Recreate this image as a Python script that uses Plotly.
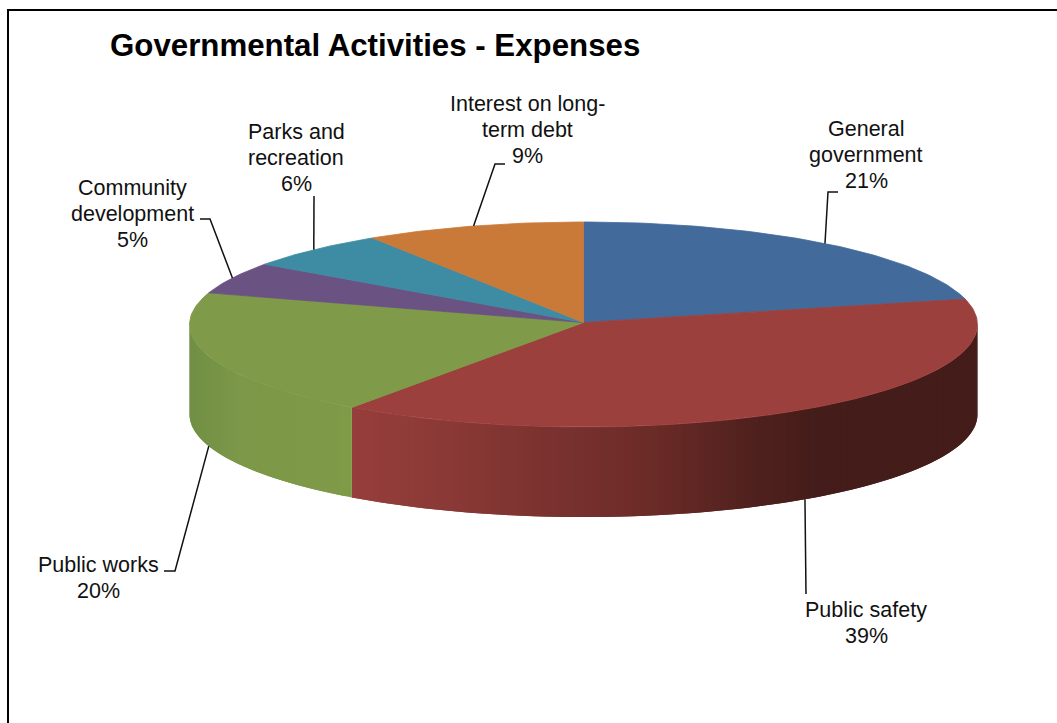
import math
import plotly.graph_objects as go

# Expense shares, clockwise from twelve o'clock
categories = ["General\ngovernment", "Public safety", "Public works",
              "Community\ndevelopment", "Parks and\nrecreation",
              "Interest on long-\nterm debt"]
values = [21, 39, 20, 5, 6, 9]
top_colors = ["#426B9B", "#9C403E", "#7F9A48", "#6A5283", "#3E8CA3", "#C97A38"]

# Tilted-disc geometry in page pixels; the hub sits slightly above the ellipse centre
CX, CY, RX, RY, DEPTH = 583.5, 324.5, 394, 102.5, 90
HUB_Y = 322.5
WIDTH, HEIGHT = 1057, 723
LINE_GAP = 26
FONT = "Liberation Sans, Arial, sans-serif"

# Label centres and leader elbows, one per slice
label_pos = [(866, 154.5), (866, 622.5), (98, 577.5), (132, 213.5), (296, 157.5), (527, 129.5)]
leader_mid = [[(828, 192), (838, 192)], [(806, 594)], [(175, 571), (164, 571)],
              [(210, 219), (200, 219)], [(314, 196)], [(495, 164), (505, 164)]]


def rim(deg, drop=0.0):
    a = math.radians(deg)
    return CX + RX * math.sin(a), CY - RY * math.cos(a) + drop


def lerp(c0, c1, t):
    return tuple(round(p + (q - p) * t) for p, q in zip(c0, c1))


def side_color(i, x):
    if i == 1:  # red wall darkens toward the right
        stops = [(349, (150, 62, 60)), (450, (138, 57, 54)), (550, (122, 50, 47)),
                 (650, (108, 43, 40)), (750, (80, 33, 30)), (820, (68, 28, 25)),
                 (985, (68, 28, 25))]
    else:  # green wall
        stops = [(185, (112, 142, 68)), (240, (124, 152, 72)), (355, (127, 155, 72))]
    for (x0, c0), (x1, c1) in zip(stops, stops[1:]):
        if x <= x1:
            return "rgb(%d,%d,%d)" % lerp(c0, c1, max(0.0, (x - x0) / (x1 - x0)))
    return "rgb(%d,%d,%d)" % stops[-1][1]


fig = go.Figure()


def polygon(xs, ys, color, edge=0.8):
    fig.add_trace(go.Scatter(
        x=xs, y=ys, mode="lines", fill="toself", fillcolor=color,
        line=dict(color=color, width=edge), hoverinfo="skip", showlegend=False))


# Slice boundaries in degrees
total = sum(values)
bounds = [0.0]
for v in values:
    bounds.append(bounds[-1] + v / total * 360)

# Outer wall: only the front half of the disc is visible.
# Each strip runs on under its neighbour so no seams open between them.
for i in range(len(values)):
    lo, hi = max(bounds[i], 90), min(bounds[i + 1], 270)
    if hi <= lo:
        continue
    n = max(1, int((hi - lo) / 1.2))
    step = (hi - lo) / n
    for k in range(n):
        a0 = lo + step * k
        a1 = min(hi, a0 + 2 * step)
        samples = [a0, a0 + (a1 - a0) / 2, a1]
        top = [rim(a) for a in samples]
        xs = [p[0] for p in top] + [p[0] for p in reversed(top)] + [top[0][0]]
        ys = [p[1] for p in top] + [p[1] + DEPTH for p in reversed(top)] + [top[0][1]]
        polygon(xs, ys, side_color(i, rim(a0 + step / 2)[0]), edge=0)

# Top face
for i, color in enumerate(top_colors):
    n = max(2, int(values[i] * 3.6))
    pts = [rim(bounds[i] + (bounds[i + 1] - bounds[i]) * k / n) for k in range(n + 1)]
    polygon([CX] + [p[0] for p in pts] + [CX],
            [HUB_Y] + [p[1] for p in pts] + [HUB_Y], color)

# Leader lines start at each slice's mid-angle on the rim
for i, mid in enumerate(leader_mid):
    ang = (bounds[i] + bounds[i + 1]) / 2
    start = rim(ang, DEPTH if 90 < ang < 270 else 0)
    pts = [start] + mid
    fig.add_trace(go.Scatter(
        x=[p[0] for p in pts], y=[p[1] for p in pts], mode="lines",
        line=dict(color="#111111", width=1.5), hoverinfo="skip", showlegend=False))

# Category labels with their percentages, set line by line for tight leading
for cat, v, (x, y) in zip(categories, values, label_pos):
    lines = cat.split("\n") + [f"{v}%"]
    for j, text in enumerate(lines):
        fig.add_annotation(x=x, y=y + (j - (len(lines) - 1) / 2) * LINE_GAP,
                           text=text, showarrow=False,
                           xanchor="center", yanchor="middle", align="center",
                           font=dict(family=FONT, size=21.5, color="#111111"))

fig.add_annotation(x=108, y=45, text="<b>Governmental Activities - Expenses</b>",
                   showarrow=False, xanchor="left", yanchor="middle",
                   font=dict(family=FONT, size=31.25, color="#000000"))

# Chart frame
fig.add_shape(type="rect", x0=8, y0=10, x1=1070, y1=740,
              line=dict(color="#000000", width=2), layer="above")

fig.update_layout(
    width=WIDTH, height=HEIGHT, autosize=False,
    margin=dict(l=0, r=0, t=0, b=0),
    paper_bgcolor="white", plot_bgcolor="white", showlegend=False,
    xaxis=dict(range=[0, WIDTH], visible=False, fixedrange=True),
    yaxis=dict(range=[HEIGHT, 0], visible=False, fixedrange=True),
)

fig.write_html("out.html")
